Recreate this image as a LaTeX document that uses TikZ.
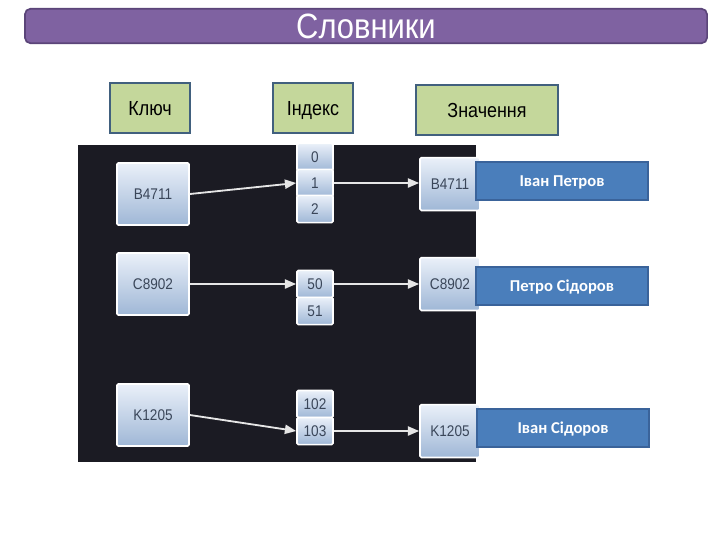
\documentclass[tikz,border=0pt]{standalone}
\usepackage{fontspec}
\setmainfont[FakeStretch=0.88]{Liberation Sans}
\newfontfamily\calfont{Carlito}
\usepackage{tikz}
\usepackage{xcolor}
\usetikzlibrary{
    arrows.meta,
    positioning
}
\definecolor{titlefill}{HTML}{7F62A1}
\definecolor{titledraw}{HTML}{5B4579}
\definecolor{headfill}{HTML}{C4D79B}
\definecolor{headdraw}{HTML}{41607E}
\definecolor{panelbg}{HTML}{1B1B23}
\definecolor{celltop}{HTML}{EAF0F9}
\definecolor{cellbot}{HTML}{9FB7D6}
\definecolor{celltext}{HTML}{3A4659}
\definecolor{valfill}{HTML}{4A7EBB}
\definecolor{valdraw}{HTML}{3A639A}
\definecolor{arrowcol}{HTML}{E6E6E6}
\tikzset{titlebar/.style={draw=titledraw, line width=1.2pt, fill=titlefill, rounded corners=4pt, text=white, minimum width=17.05cm, minimum height=0.85cm, text height=17.9pt, text depth=0pt, font=\fontsize{25}{28}\selectfont}}
\tikzset{head/.style={draw=headdraw, line width=1.4pt, fill=headfill, minimum height=1.27cm, text height=10.4pt, text depth=0pt, font=\fontsize{14.5}{17}\selectfont}}
\tikzset{keyb/.style={draw=white, line width=1.2pt, rounded corners=1pt, top color=celltop, bottom color=cellbot, text=celltext, text height=7.9pt, text depth=0pt, font=\fontsize{11}{13}\selectfont}}
\tikzset{cell/.style={keyb, inner sep=0pt, minimum width=0.9cm, minimum height=0.68cm}}
\tikzset{valb/.style={draw=valdraw, line width=0.8pt, fill=valfill, text=white, minimum width=4.3cm, minimum height=0.95cm, text height=7.6pt, text depth=0pt, font=\calfont\bfseries\fontsize{11.8}{14}\selectfont}}
\tikzset{link/.style={draw=arrowcol, line width=1.3pt, -{Triangle[length=8pt,width=6.5pt]}}}

\begin{document}
\begin{tikzpicture}[x=0.025cm, y=-0.025cm]
    \useasboundingbox (0,0) rectangle (720,540);

    \node[titlebar] (title) at (366,26) {Словники};

    \node[head, minimum width=2cm] (hkey) at (150,108) {Ключ};
    \node[head, minimum width=2cm] (hidx) at (313,108) {Індекс};
    \node[head, minimum width=3.55cm] (hval) at (487,110) {Значення};

    % dark panel
    \fill[panelbg] (78,145) rectangle (476,462);

    \node[keyb, minimum width=1.8cm, minimum height=1.55cm] (kb) at (153,194) {B4711};
    \node[keyb, minimum width=1.8cm, minimum height=1.55cm] (kc) at (153,284) {C8902};
    \node[keyb, minimum width=1.8cm, minimum height=1.55cm] (kk) at (153,415) {K1205};

    \node[cell] (i0) at (315,157) {0};
    \node[cell] (i1) at (315,183) {1};
    \node[cell] (i2) at (315,209) {2};
    \node[cell] (i50) at (315,284) {50};
    \node[cell] (i51) at (315,311) {51};
    \node[cell] (i102) at (315,404) {102};
    \node[cell] (i103) at (315,431) {103};

    \node[keyb, minimum width=1.5cm, minimum height=1.32cm] (vb) at (450,184) {B4711};
    \node[keyb, minimum width=1.5cm, minimum height=1.32cm] (vc) at (450,284) {C8902};
    \node[keyb, minimum width=1.5cm, minimum height=1.32cm] (vk) at (450,431) {K1205};

    \node[valb] (nb) at (562,181) {Іван Петров};
    \node[valb] (nc) at (562,286) {Петро Сідоров};
    \node[valb] (nk) at (563,428) {Іван Сідоров};

    \draw[link] (kb.east) -- (i1.west);
    \draw[link] (kc.east) -- (i50.west);
    \draw[link] (kk.east) -- (i103.west);
    \draw[link] (i1.east) -- (vb.west |- i1.east);
    \draw[link] (i50.east) -- (vc.west |- i50.east);
    \draw[link] (i103.east) -- (vk.west |- i103.east);
\end{tikzpicture}
\end{document}
